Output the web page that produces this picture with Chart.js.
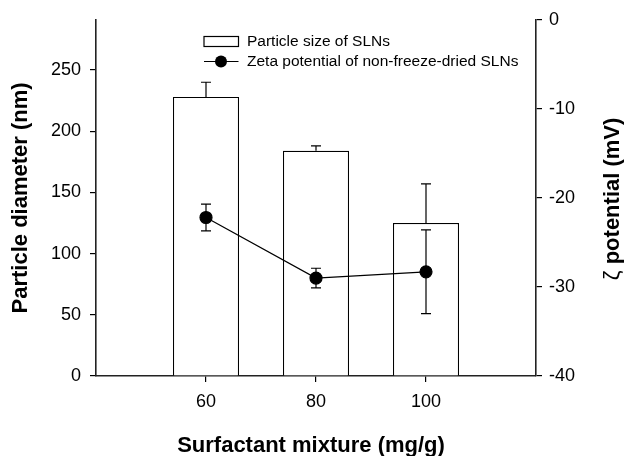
<!DOCTYPE html>
<html>
<head>
<meta charset="utf-8">
<script src="https://cdn.jsdelivr.net/npm/chart.js@4.4.0/dist/chart.umd.min.js"></script>
<style>
  body { margin: 0; background: #fff; }
  #wrap { width: 626px; height: 456px; }
</style>
</head>
<body>
<div id="wrap"><canvas id="sizeChart" width="626" height="456"></canvas></div>
<script>
// data
const surfactant = [60, 80, 100];
const particleSize = [228, 184, 125];
const particleSizeErr = [12, 4, 32];
const zeta = [-22.2, -29.0, -28.3];
const zetaErr = [1.5, 1.1, 4.7];

const xTicks = [60, 80, 100];
const leftTicks = [0, 50, 100, 150, 200, 250];
const rightTicks = [-40, -30, -20, -10, 0];

const FONT = "'Liberation Sans', Arial, Helvetica, sans-serif";
const INK = '#000';

// error bars: bars get the upper whisker only, zeta gets both
const errorBars = {
    id: 'errorBars',
    afterDatasetsDraw(chart) {
        const ctx = chart.ctx;
        const x = chart.scales.x;
        const y = chart.scales.y;
        const y1 = chart.scales.y1;
        const cap = 5;
        ctx.save();
        ctx.strokeStyle = INK;
        ctx.lineWidth = 1.2;
        surfactant.forEach((s, i) => {
            const px = x.getPixelForValue(s);
            // particle size
            let top = y.getPixelForValue(particleSize[i] + particleSizeErr[i]);
            let mid = y.getPixelForValue(particleSize[i]);
            ctx.beginPath();
            ctx.moveTo(px, mid); ctx.lineTo(px, top);
            ctx.moveTo(px - cap, top); ctx.lineTo(px + cap, top);
            ctx.stroke();
            // zeta
            top = y1.getPixelForValue(zeta[i] + zetaErr[i]);
            let bot = y1.getPixelForValue(zeta[i] - zetaErr[i]);
            ctx.beginPath();
            ctx.moveTo(px, top); ctx.lineTo(px, bot);
            ctx.moveTo(px - cap, top); ctx.lineTo(px + cap, top);
            ctx.moveTo(px - cap, bot); ctx.lineTo(px + cap, bot);
            ctx.stroke();
        });
        ctx.restore();
    }
};

// legend inside the plot, x title, right axis title (zeta sign not bold)
const extras = {
    id: 'extras',
    afterDraw(chart) {
        const ctx = chart.ctx;
        const sets = chart.data.datasets;
        ctx.save();
        ctx.font = '15.5px ' + FONT;
        ctx.fillStyle = INK;
        ctx.textBaseline = 'middle';
        ctx.strokeStyle = INK;
        ctx.lineWidth = 1.2;
        // bar entry
        ctx.strokeRect(204, 36.5, 34.5, 10);
        ctx.fillText(sets[0].label, 247, 41.5);
        // line entry
        ctx.beginPath();
        ctx.moveTo(204, 61.5); ctx.lineTo(238.5, 61.5);
        ctx.stroke();
        ctx.beginPath();
        ctx.arc(221, 61.5, 6, 0, Math.PI * 2);
        ctx.fill();
        ctx.fillText(sets[1].label, 247, 62);
        ctx.restore();

        // x axis title
        ctx.save();
        ctx.fillStyle = INK;
        ctx.font = 'bold 22px ' + FONT;
        ctx.textAlign = 'center';
        ctx.textBaseline = 'alphabetic';
        ctx.fillText('Surfactant mixture (mg/g)', 311, 451.5);
        ctx.restore();

        // right axis title, reads bottom to top
        const area = chart.chartArea;
        const zetaSign = 'ζ ';
        const rest = 'potential (mV)';
        ctx.save();
        ctx.fillStyle = INK;
        ctx.textBaseline = 'alphabetic';
        ctx.textAlign = 'left';
        ctx.font = '22px ' + FONT;
        const w1 = ctx.measureText(zetaSign).width;
        ctx.font = 'bold 22px ' + FONT;
        const w2 = ctx.measureText(rest).width;
        ctx.translate(619, (area.top + area.bottom) / 2 + 1);
        ctx.rotate(-Math.PI / 2);
        const start = -(w1 + w2) / 2;
        ctx.font = '22px ' + FONT;
        ctx.fillText(zetaSign, start, 0);
        ctx.font = 'bold 22px ' + FONT;
        ctx.fillText(rest, start + w1, 0);
        ctx.restore();
    }
};

const sizeCanvas = document.getElementById('sizeChart');

let sizeData = {
    datasets: [{
        type: 'bar',
        label: 'Particle size of SLNs',
        data: surfactant.map((s, i) => ({ x: s, y: particleSize[i] })),
        backgroundColor: '#fff',
        borderColor: INK,
        borderWidth: 1.2,
        borderSkipped: 'bottom',
        barPercentage: 0.6,
        categoryPercentage: 1.0,
        yAxisID: 'y',
        order: 2
    }, {
        type: 'line',
        label: 'Zeta potential of non-freeze-dried SLNs',
        data: surfactant.map((s, i) => ({ x: s, y: zeta[i] })),
        borderColor: INK,
        borderWidth: 1.2,
        backgroundColor: INK,
        pointBackgroundColor: INK,
        pointBorderColor: INK,
        pointRadius: 6,
        tension: 0,
        yAxisID: 'y1',
        order: 1
    }]
};

let sizeOptions = {
    responsive: false,
    animation: false,
    layout: { padding: { top: 19, left: 0, right: 0, bottom: 0 } },
    plugins: {
        legend: { display: false },
        tooltip: { enabled: false }
    },
    scales: {
        x: {
            type: 'linear',
            min: 40,
            max: 120,
            offset: false,
            afterBuildTicks: axis => { axis.ticks = xTicks.map(v => ({ value: v })); },
            afterFit: axis => { axis.height = 80; },
            grid: { display: true, drawOnChartArea: false, drawTicks: true, tickLength: 6, color: INK, lineWidth: 1.2, offset: false },
            border: { display: true, color: '#222', width: 1.6 },
            ticks: { color: INK, font: { family: FONT, size: 18 }, padding: 9, maxRotation: 0 },
            title: { display: false }
        },
        y: {
            position: 'left',
            min: 0,
            max: 291,
            afterBuildTicks: axis => { axis.ticks = leftTicks.map(v => ({ value: v })); },
            afterFit: axis => { axis.width = 96; },
            grid: { display: true, drawOnChartArea: false, drawTicks: true, tickLength: 6, color: INK, lineWidth: 1.2 },
            border: { display: true, color: '#222', width: 1.6 },
            ticks: { color: INK, font: { family: FONT, size: 18 }, padding: 9 },
            title: {
                display: true,
                text: 'Particle diameter (nm)',
                color: INK,
                font: { family: FONT, size: 22, weight: 'bold' },
                padding: { top: 8, bottom: 0 }
            }
        },
        y1: {
            position: 'right',
            min: -40,
            max: 0,
            afterBuildTicks: axis => { axis.ticks = rightTicks.map(v => ({ value: v })); },
            afterFit: axis => { axis.width = 90; },
            grid: { display: true, drawOnChartArea: false, drawTicks: true, tickLength: 6, color: INK, lineWidth: 1.2 },
            border: { display: true, color: '#222', width: 1.6 },
            ticks: { color: INK, font: { family: FONT, size: 18 }, padding: 7 },
            title: { display: false }
        }
    }
};

let sizeChart = new Chart(sizeCanvas, {
    type: 'bar',
    data: sizeData,
    options: sizeOptions,
    plugins: [errorBars, extras]
});
</script>
</body>
</html>
